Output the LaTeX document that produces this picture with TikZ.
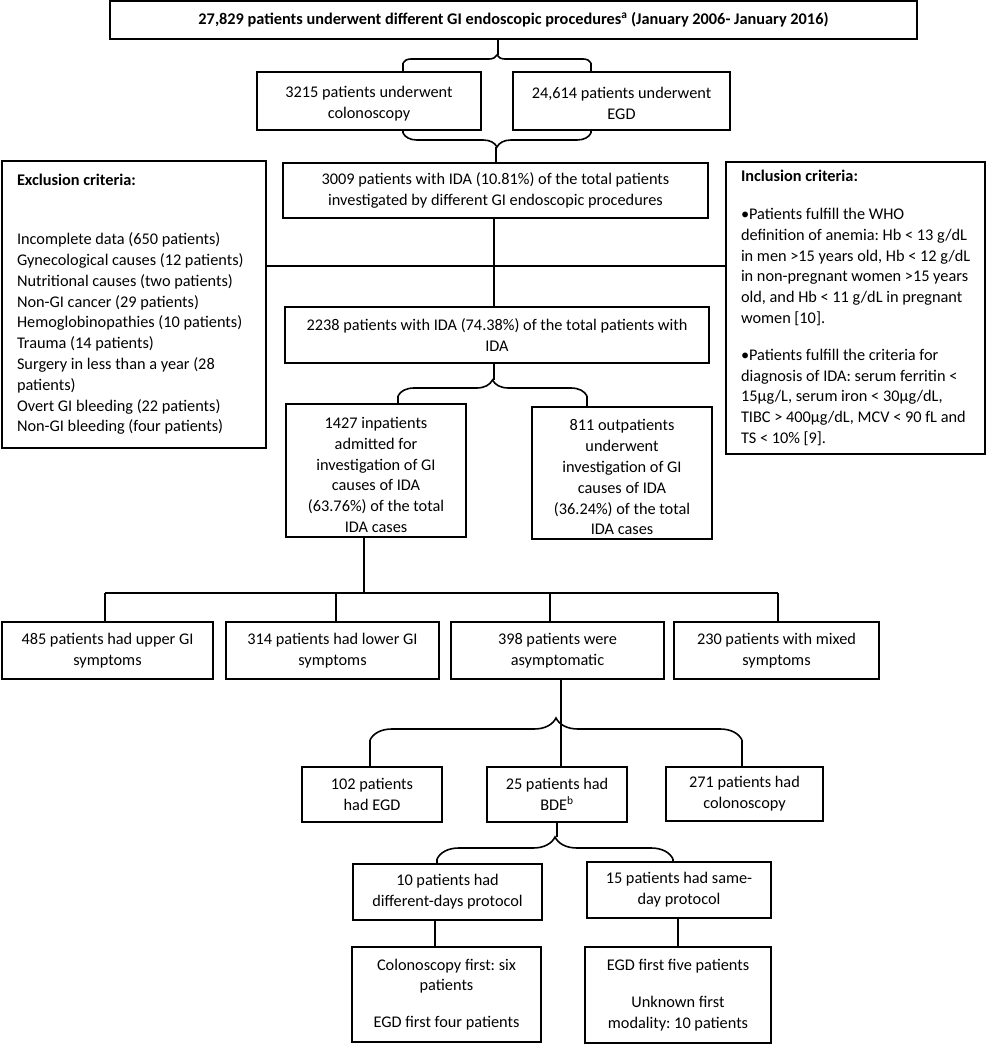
\documentclass[tikz,border=0pt]{standalone}
\usepackage{fontspec}
\setmainfont{Carlito}
\usetikzlibrary{decorations.pathreplacing}
\frenchspacing
\newcommand{\myfnt}{\fontsize{16.3}{20.8}\selectfont\frenchspacing}
\tikzset{
  box/.style={draw, line width=1.6pt, inner sep=0pt, align=center, font=\myfnt},
  leftbox/.style={draw, line width=1.6pt, inner sep=0pt, align=flush left, font=\myfnt},
  conn/.style={line width=1.6pt},
  bracepath/.style={line width=1.6pt, decorate, decoration={brace, amplitude=#1}},
}
\begin{document}
\begin{tikzpicture}[x=1pt,y=-1pt]
\useasboundingbox (0,0) rectangle (986,1046);

% boxes
\node[box, minimum width=807, minimum height=38] (top) at (513.5,20) {\textbf{27,829 patients underwent different GI endoscopic procedures\textsuperscript{a} (January 2006- January 2016)}};
\node[box, minimum width=224, minimum height=58] (colo) at (369,101) {\rule{0pt}{16pt}3215 patients underwent\\colonoscopy};
\node[box, minimum width=217, minimum height=58] (egd) at (621.5,101) {\rule{0pt}{16pt}24,614 patients underwent\\EGD};
\node[box, minimum width=425, minimum height=55] (b3009) at (495.5,190.5) {3009 patients with IDA (10.81\%) of the total patients\\investigated by different GI endoscopic procedures};
\node[leftbox, minimum width=264, minimum height=287, text width=234] (excl) at (134,304.5) {\textbf{Exclusion criteria:}\\[38pt]
\mbox{Incomplete data (650 patients)}\\
\mbox{Gynecological causes (12 patients)}\\
\mbox{Nutritional causes (two patients)}\\
\mbox{Non-GI cancer (29 patients)}\\
\mbox{Hemoglobinopathies (10 patients)}\\
\mbox{Trauma (14 patients)}\\
\mbox{Surgery in less than a year (28}\\
patients)\\
\mbox{Overt GI bleeding (22 patients)}\\
\mbox{Non-GI bleeding (four patients)}};
\node[leftbox, minimum width=259, minimum height=292, text width=229] (incl) at (855.5,308) {\textbf{Inclusion criteria:}\\[17pt]
\mbox{•Patients fulfill the WHO}\\
\mbox{definition of anemia: Hb < 13 g/dL}\\
\mbox{in men >15 years old, Hb < 12 g/dL}\\
\mbox{in non-pregnant women >15 years}\\
\mbox{old, and Hb < 11 g/dL in pregnant}\\
\mbox{women [10].}\\[16pt]
\mbox{•Patients fulfill the criteria for}\\
\mbox{diagnosis of IDA: serum ferritin <}\\
\mbox{15µg/L, serum iron < 30µg/dL,}\\
\mbox{TIBC > 400µg/dL, MCV < 90 fL and}\\
\mbox{TS < 10\% [9].}};
\node[box, minimum width=424, minimum height=56] (b2238) at (497,335) {2238 patients with IDA (74.38\%) of the total patients with\\IDA};
\node[box, minimum width=180, minimum height=133] (inpat) at (376,470.5) {\rule{0pt}{20pt}1427 inpatients\\admitted for\\investigation of GI\\causes of IDA\\(63.76\%) of the total\\IDA cases};
\node[box, minimum width=180, minimum height=132] (outpat) at (622,473) {\rule{0pt}{20pt}811 outpatients\\underwent\\investigation of GI\\causes of IDA\\(36.24\%) of the total\\IDA cases};
\node[box, minimum width=211, minimum height=57] (s1) at (107.5,650.5) {485 patients had upper GI\\symptoms};
\node[box, minimum width=213, minimum height=57] (s2) at (332.5,650.5) {314 patients had lower GI\\symptoms};
\node[box, minimum width=213, minimum height=57] (s3) at (557.5,650.5) {398 patients were\\asymptomatic};
\node[box, minimum width=205, minimum height=57] (s4) at (776.5,650.5) {230 patients with mixed\\symptoms};
\node[box, minimum width=140, minimum height=55] (egd2) at (372,794.5) {102 patients\\had EGD};
\node[box, minimum width=140, minimum height=55] (bde) at (557,794.5) {25 patients had\\BDE\textsuperscript{b}};
\node[box, minimum width=157, minimum height=54] (col2) at (744.5,794) {271 patients had\\colonoscopy};
\node[box, minimum width=189, minimum height=56] (diff) at (447.5,892) {10 patients had\\different-days protocol};
\node[box, minimum width=184, minimum height=56] (same) at (679,890) {15 patients had same-\\day protocol};
\node[box, minimum width=189, minimum height=95] (bl) at (446.5,994.5) {Colonoscopy first: six\\patients\\[16pt]EGD first four patients};
\node[box, minimum width=186, minimum height=96] (br) at (678,995) {EGD first five patients\\[16pt]Unknown first\\modality: 10 patients};

% connectors
% top -> colonoscopy / EGD
\draw[conn] (498,0 |- top.south) -- (498,55);
\draw[bracepath=8pt] (403,63) -- (591,63);
\draw[conn] (403,63) -- (403,0 |- colo.north);
\draw[conn] (591,63) -- (591,0 |- egd.north);
% colonoscopy / EGD -> 3009
\draw[conn] (403,0 |- colo.south) -- (403,133);
\draw[conn] (591,0 |- egd.south) -- (591,133);
\draw[bracepath=14pt] (591,133) -- (403,133);
\draw[conn] (496,147) -- (496,0 |- b3009.north);
% 3009 -> 2238, exclusion / inclusion
\draw[conn] (494,0 |- b3009.south) -- (494,0 |- b2238.north);
\draw[conn] (excl.east |- 0,266) -- (incl.west |- 0,266);
% 2238 -> inpatients / outpatients
\draw[conn] (494,0 |- b2238.south) -- (494,380);
\draw[bracepath=16pt] (398,396) -- (587,396);
\draw[conn] (398,396) -- (398,0 |- inpat.north);
\draw[conn] (587,396) -- (587,0 |- outpat.north);
% inpatients -> symptom groups
\coordinate (hub) at (364,593);
\draw[conn] (364,0 |- inpat.south) -- (hub);
\draw[conn] (105,593) -- (778,593);
\draw[conn] (105,593) -- (105,0 |- s1.north);
\draw[conn] (336,593) -- (336,0 |- s2.north);
\draw[conn] (550,593) -- (550,0 |- s3.north);
\draw[conn] (778,593) -- (778,0 |- s4.north);
% asymptomatic -> EGD / BDE / colonoscopy
\draw[conn] (561,0 |- s3.south) -- (561,0 |- bde.north);
\draw[bracepath=22pt] (370,740) -- (742,740);
\draw[conn] (370,740) -- (370,0 |- egd2.north);
\draw[conn] (742,740) -- (742,0 |- col2.north);
% BDE -> protocols
\draw[conn] (557,0 |- bde.south) -- (557,837);
\draw[bracepath=22pt] (437,859) -- (673,859);
\draw[conn] (437,859) -- (437,0 |- diff.north);
\draw[conn] (673,859) -- (673,0 |- same.north);
% protocols -> details
\draw[conn] (435,0 |- diff.south) -- (435,0 |- bl.north);
\draw[conn] (678,0 |- same.south) -- (678,0 |- br.north);
\end{tikzpicture}
\end{document}
